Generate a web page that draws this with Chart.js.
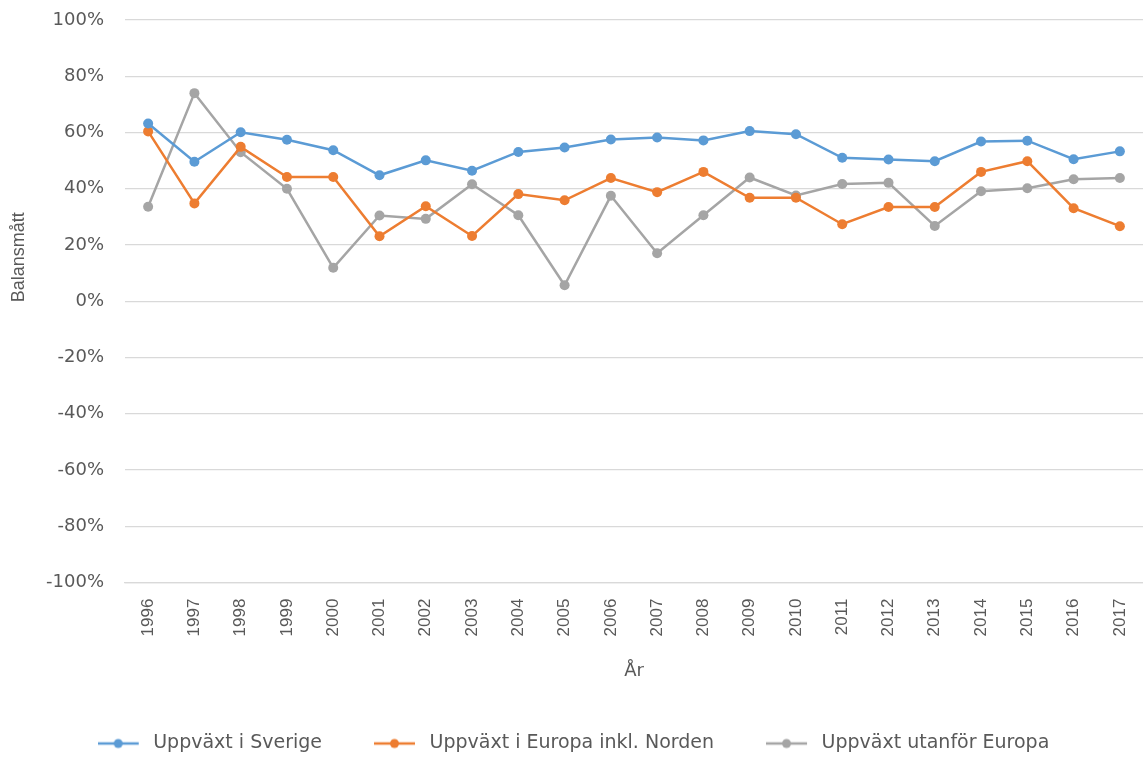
<!DOCTYPE html>
<html>
<head>
<meta charset="utf-8">
<script src="https://cdn.jsdelivr.net/npm/chart.js@4/dist/chart.umd.min.js"></script>
<style>
  html, body { margin: 0; padding: 0; background: #fff; }
  #wrap { width: 1143px; height: 758px; }
</style>
</head>
<body>
<div id="wrap"><canvas id="chart"></canvas></div>
<script>
const years = ['1996','1997','1998','1999','2000','2001','2002','2003','2004','2005','2006',
  '2007','2008','2009','2010','2011','2012','2013','2014','2015','2016','2017'];

// balansmått i procent
const sverige = [63.2, 49.6, 60.1, 57.4, 53.7, 44.8, 50.1, 46.4, 53.1, 54.7, 57.5,
  58.2, 57.2, 60.5, 59.4, 51.0, 50.4, 49.8, 56.8, 57.1, 50.5, 53.3];
const europa = [60.4, 34.8, 54.9, 44.2, 44.2, 23.1, 33.8, 23.2, 38.1, 35.9, 43.8,
  38.8, 46.0, 36.8, 36.8, 27.4, 33.5, 33.5, 46.0, 49.8, 33.1, 26.7];
const utanfor = [33.6, 74.0, 53.0, 40.0, 11.9, 30.5, 29.3, 41.6, 30.6, 5.7, 37.5,
  17.1, 30.6, 44.0, 37.6, 41.7, 42.1, 26.8, 39.1, 40.2, 43.4, 43.8];

const yTicks = [-100, -80, -60, -40, -20, 0, 20, 40, 60, 80, 100];

const WIDE = '"DejaVu Sans", Verdana, sans-serif';
const NARROW = '"Liberation Sans", Arial, sans-serif';
const TEXT = '#595959';

// small line-with-dot swatch for the legend
function swatch(color) {
  const c = document.createElement('canvas');
  c.width = 46; c.height = 12;
  const g = c.getContext('2d');
  g.strokeStyle = color; g.lineWidth = 2.5;
  g.beginPath(); g.moveTo(0, 6); g.lineTo(41, 6); g.stroke();
  g.fillStyle = color;
  g.beginPath(); g.arc(20.5, 6, 4.5, 0, Math.PI * 2); g.fill();
  return c;
}

function series(label, data, color) {
  return {
    label, data,
    borderColor: color,
    backgroundColor: color,
    borderWidth: 2.5,
    pointRadius: 5,
    pointHoverRadius: 5,
    pointBorderWidth: 0,
    pointStyle: 'circle',
    tension: 0,
    swatch: swatch(color)
  };
}

// y-axis title, sitting a bit above the middle of the axis
const yTitle = {
  id: 'yTitle',
  afterDraw(chart) {
    const { ctx, chartArea } = chart;
    ctx.save();
    ctx.translate(19, (chartArea.top + chartArea.bottom) / 2 - 44);
    ctx.rotate(-Math.PI / 2);
    ctx.fillStyle = TEXT;
    ctx.font = '18px ' + NARROW;
    ctx.textAlign = 'center';
    ctx.textBaseline = 'middle';
    ctx.fillText('Balansmått', 0, 0);
    ctx.restore();
  }
};

new Chart(document.getElementById('chart'), {
  type: 'line',
  data: {
    labels: years,
    datasets: [
      series('Uppväxt i Sverige', sverige, '#5b9bd5'),
      series('Uppväxt i Europa inkl. Norden', europa, '#ed7d31'),
      series('Uppväxt utanför Europa', utanfor, '#a5a5a5')
    ]
  },
  plugins: [yTitle],
  options: {
    responsive: true,
    maintainAspectRatio: false,
    animation: false,
    layout: { autoPadding: false, padding: { top: 20, right: 0, left: 4, bottom: -5 } },
    plugins: {
      tooltip: { enabled: false },
      legend: {
        position: 'bottom',
        labels: {
          color: TEXT,
          font: { family: WIDE, size: 19 },
          usePointStyle: true,
          pointStyleWidth: 46,
          boxHeight: 12,
          padding: 52,
          generateLabels(chart) {
            return chart.data.datasets.map((ds, i) => ({
              text: ds.label,
              pointStyle: ds.swatch,
              fillStyle: ds.borderColor,
              strokeStyle: ds.borderColor,
              lineWidth: 0,
              fontColor: TEXT,
              datasetIndex: i,
              hidden: false
            }));
          }
        }
      }
    },
    scales: {
      x: {
        offset: true,
        afterFit(scale) { scale.paddingRight = 0; scale.paddingLeft = 0; },
        grid: { display: false },
        border: { color: '#d9d9d9', width: 1.3 },
        ticks: {
          color: TEXT,
          font: { family: NARROW, size: 17 },
          minRotation: 90, maxRotation: 90,
          padding: 8
        },
        title: {
          display: true, text: 'År', color: TEXT,
          font: { family: WIDE, size: 18 },
          padding: { top: 16, bottom: 0 }
        }
      },
      y: {
        min: -100, max: 100,
        afterBuildTicks(scale) { scale.ticks = yTicks.map(v => ({ value: v })); },
        afterFit(scale) { scale.width = 121; scale.paddingTop = 0; scale.paddingBottom = 0; },
        grid: { color: '#d9d9d9', lineWidth: 1.3, drawTicks: false },
        border: { display: false },
        ticks: {
          color: TEXT,
          font: { family: WIDE, size: 18 },
          padding: 21,
          callback: v => v + '%'
        }
      }
    }
  }
});
</script>
</body>
</html>
